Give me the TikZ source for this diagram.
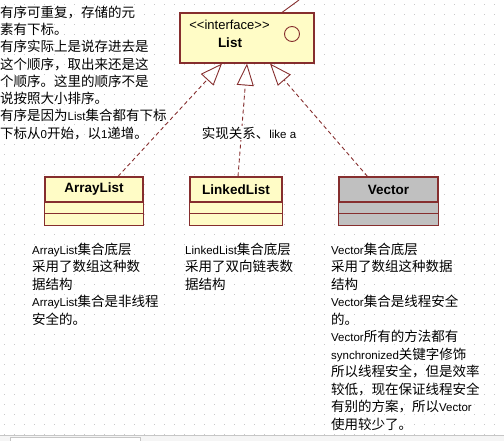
\documentclass[tikz,border=0pt]{standalone}
\usepackage{fontspec}
\setmainfont{Noto Sans CJK SC}
\newfontfamily\enfont{Liberation Sans}
\usetikzlibrary{arrows.meta,positioning,calc}
\definecolor{umlfill}{RGB}{255,252,198}
\definecolor{umlline}{RGB}{134,46,46}
\definecolor{umlgray}{RGB}{192,192,192}
\definecolor{gridgray}{RGB}{200,200,200}
\newcommand{\en}[1]{{\enfont\fontsize{11.5}{17.5}\selectfont #1}}
\tikzset{
    classbox/.style={draw=umlline, fill=umlfill, line width=1.1pt, minimum height=25pt,
        inner sep=0pt, font=\enfont\bfseries\fontsize{13.5}{16}\selectfont},
    compbox/.style={draw=umlline, line width=1.1pt},
    notetext/.style={align=left, anchor=north west, inner sep=0pt,
        font=\fontsize{13.5}{17.5}\selectfont},
    realizes/.style={draw=umlline, dash pattern=on 4pt off 3pt, line width=0.9pt,
        -{Triangle[open, length=22pt, width=17pt, line width=0.9pt]}}
}

\begin{document}
\begin{tikzpicture}[x=1pt, y=-1pt]
\useasboundingbox (0,0) rectangle (504,441);
% dotted grid
\foreach \gx in {4,14,...,504}
    \foreach \gy in {4,14,...,434}
        \fill[gridgray] (\gx,\gy) rectangle ++(1.2,1.2);

% interface
\node[draw=umlline, fill=umlfill, line width=1.1pt, minimum width=134pt,
    minimum height=50pt] (list) at (247,38) {};
\node[font=\enfont\fontsize{13}{13}\selectfont] (stereo) at (229.5,25)
    {\textless\textless interface\textgreater\textgreater};
\node[font=\enfont\bfseries\fontsize{13.5}{13.5}\selectfont] (listname) at (230,43) {List};
\draw[umlline, line width=0.9pt] (292,34) circle (7.5pt);
\coordinate (lead) at (299,0);
\draw[umlline, line width=0.9pt] ([xshift=35pt]list.north) -- (lead);

% classes
\node[classbox, minimum width=98pt] (arraylist) at (94,189.5) {ArrayList};
\node[classbox, minimum width=92pt] (linkedlist) at (236,189.5) {LinkedList};
\node[classbox, minimum width=99pt, fill=umlgray] (vector) at (388.5,189.5) {Vector};
\foreach \cls/\col in {arraylist/umlfill, linkedlist/umlfill, vector/umlgray} {
    \draw[compbox, fill=\col] (\cls.south west) rectangle ($(\cls.south east)+(0,11)$);
    \draw[compbox, fill=\col] ($(\cls.south west)+(0,11)$) rectangle ($(\cls.south east)+(0,23)$);
}

% realization
\draw[realizes] ([xshift=24pt]arraylist.north) -- ([xshift=-25pt]list.south);
\draw[realizes] ([xshift=2pt]linkedlist.north) -- (list.south);
\draw[realizes] ([xshift=-21pt]vector.north) -- ([xshift=23pt]list.south);
\node[fill=white, inner sep=1pt, font=\fontsize{13.5}{16}\selectfont] (rellabel) at (249,133)
    {实现关系、\en{like a}};

% notes
\node[notetext, font=\fontsize{13.5}{17.3}\selectfont] (listnote) at (0,5.5)
    {有序可重复，存储的元\\素有下标。\\有序实际上是说存进去是\\这个顺序，取出来还是这\\个顺序。这里的顺序不是\\说按照大小排序。\\有序是因为\en{List}集合都有下标\\下标从\en{0}开始，以\en{1}递增。};
\node[notetext] (arraynote) at (32,242.5)
    {\en{ArrayList}集合底层\\采用了数组这种数\\据结构\\\en{ArrayList}集合是非线程\\安全的。};
\node[notetext] (linkednote) at (185,242.5)
    {\en{LinkedList}集合底层\\采用了双向链表数\\据结构};
\node[notetext] (vectornote) at (331,242.5)
    {\en{Vector}集合底层\\采用了数组这种数据\\结构\\\en{Vector}集合是线程安全\\的。\\\en{Vector}所有的方法都有\\\en{synchronized}关键字修饰\\所以线程安全，但是效率\\较低，现在保证线程安全\\有别的方案，所以\en{Vector}\\使用较少了。};

% window edge
\fill[gray!8] (0,435) rectangle (504,441);
\draw[gray!45] (0,435) -- (504,435);
\draw[gray!45, fill=white] (10,441) -- (10,437.5) -- (140,437.5) -- (140,441);
\end{tikzpicture}
\end{document}
